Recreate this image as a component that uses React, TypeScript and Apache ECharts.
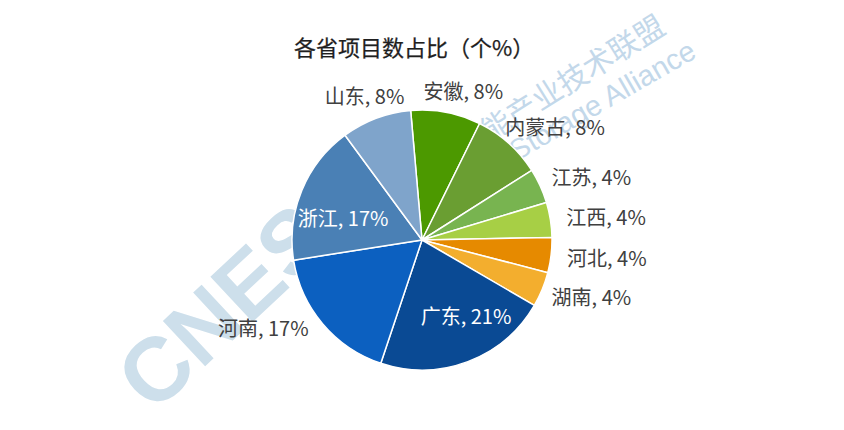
import React, { useEffect, useRef } from 'react';
import * as echarts from 'echarts';

const titleText = '各省项目数占比（个%）';
const categories = ['安徽', '内蒙古', '江苏', '江西', '河北', '湖南', '广东', '河南', '浙江', '山东'];
const projectCounts = [2, 2, 1, 1, 1, 1, 5, 4, 4, 2];
const percentLabels = ['8%', '8%', '4%', '4%', '4%', '4%', '21%', '17%', '17%', '8%'];
const sliceColors = ['#4c9900', '#6a9e32', '#78b450', '#a7cf45', '#e68a00', '#f3ae2e', '#0a4a94', '#0c60c0', '#4a80b5', '#7fa4cb'];
const labelInside = [false, false, false, false, false, false, true, false, true, false];
const labelShift: [number, number][] = [
  [-24, -14], [-9, -11], [4, -6], [8, -2], [8, 1], [2, 4], [20, 12], [-8, -2], [-16, 3], [31, -15],
];

export default function App() {
  const ref = useRef<HTMLDivElement>(null);
  useEffect(() => {
    if (!ref.current) return;
    const chart = echarts.init(ref.current, undefined, { renderer: 'svg' });
    const font = '"Noto Sans CJK SC", "Noto Sans", sans-serif';
    chart.setOption({
      animation: false,
      backgroundColor: '#ffffff',
      title: {
        text: titleText,
        left: 414,
        top: 35,
        padding: 0,
        textAlign: 'center',
        textStyle: {
          fontFamily: font,
          fontSize: 22,
          fontWeight: 'normal',
          color: '#1f1f1f',
          textBorderColor: '#1f1f1f',
          textBorderWidth: 0.25,
        },
      },
      graphic: [
        {
          type: 'text',
          x: 132,
          y: 392,
          rotation: (43 * Math.PI) / 180,
          z: 0,
          silent: true,
          style: {
            text: 'CNESA',
            font: 'bold 90px "Liberation Sans", Arial, sans-serif',
            fill: '#cddfeb',
            textAlign: 'left',
            textVerticalAlign: 'middle',
          },
        },
        {
          type: 'text',
          x: 457,
          y: 148,
          rotation: (32 * Math.PI) / 180,
          z: 0,
          silent: true,
          style: {
            text: '储能产业技术联盟',
            font: '30px "Noto Sans CJK SC", sans-serif',
            fill: '#c3d8ea',
            textAlign: 'left',
            textVerticalAlign: 'middle',
          },
        },
        {
          type: 'text',
          x: 693,
          y: 48,
          rotation: (30 * Math.PI) / 180,
          z: 0,
          silent: true,
          style: {
            text: 'Storage Alliance',
            font: '29px "Liberation Sans", Arial, sans-serif',
            fill: '#c3d8ea',
            textAlign: 'right',
            textVerticalAlign: 'middle',
          },
        },
      ],
      series: [
        {
          type: 'pie',
          z: 2,
          center: [422, 240],
          radius: 130,
          startAngle: 95,
          clockwise: true,
          avoidLabelOverlap: false,
          itemStyle: { borderColor: '#ffffff', borderWidth: 1.5 },
          label: {
            show: true,
            position: 'outside',
            distanceToLabelLine: 0,
            fontFamily: font,
            fontSize: 20,
            color: '#404040',
            formatter: (p: any) => `${p.name}, ${percentLabels[p.dataIndex]}`,
          },
          labelLine: { show: false, length: 8, length2: 0 },
          labelLayout: (p: any) => ({ dx: labelShift[p.dataIndex][0], dy: labelShift[p.dataIndex][1] }),
          emphasis: { disabled: true },
          data: categories.map((name, i) => ({
            name,
            value: projectCounts[i],
            itemStyle: { color: sliceColors[i] },
            label: labelInside[i] ? { position: 'inside', color: '#ffffff' } : undefined,
          })),
        },
      ],
    });
    return () => chart.dispose();
  }, []);
  return <div ref={ref} style={{ position: 'fixed', left: 0, top: 0, width: 844, height: 430 }} />;
}
